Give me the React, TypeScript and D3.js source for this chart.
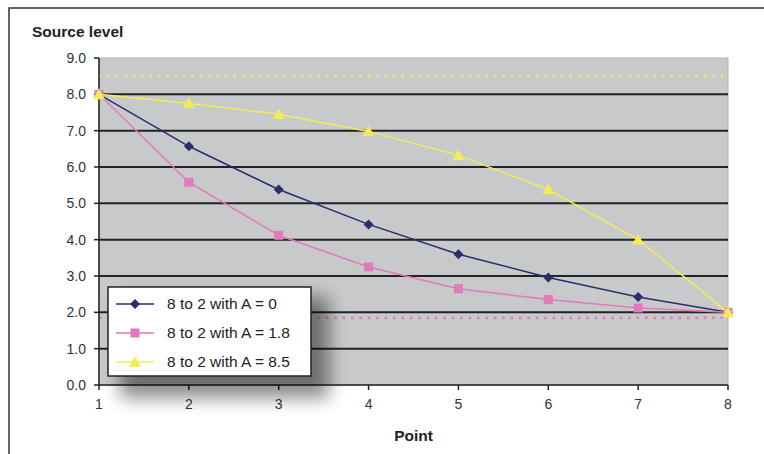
import React from "react";
import * as d3 from "d3";

const points = [1, 2, 3, 4, 5, 6, 7, 8];
const seriesNames = ["8 to 2 with A = 0", "8 to 2 with A = 1.8", "8 to 2 with A = 8.5"];
const seriesA0 = [8, 6.57, 5.38, 4.42, 3.6, 2.96, 2.42, 2.0];
const seriesA18 = [8, 5.58, 4.12, 3.25, 2.65, 2.35, 2.12, 2.0];
const seriesA85 = [8, 7.75, 7.45, 6.98, 6.32, 5.38, 4.0, 2.0];
const yTicks = [0, 1, 2, 3, 4, 5, 6, 7, 8, 9];
const refLines = [8.5, 1.85];
const colors = ["#2b2d6b", "#e07ab8", "#f2ec5a"];
const refColors = ["#f0e85a", "#e07ab8"];

const W = 764, H = 454;
const M = { left: 99, right: 728, top: 58, bottom: 385 };

export default function App() {
  const x = d3.scaleLinear().domain([1, 8]).range([M.left, M.right]);
  const y = d3.scaleLinear().domain([0, 9]).range([M.bottom, M.top]);
  const line = d3.line<number>().x((_, i) => x(points[i])).y((d) => y(d));
  const data = [seriesA0, seriesA18, seriesA85];
  const font = "'Liberation Sans', Arial, sans-serif";

  const marker = (k: number, cx: number, cy: number, key: string) => {
    if (k === 0) {
      const s = 5;
      return <path key={key} d={`M${cx},${cy - s}L${cx + s},${cy}L${cx},${cy + s}L${cx - s},${cy}Z`} fill={colors[0]} />;
    }
    if (k === 1) {
      return <rect key={key} x={cx - 4.5} y={cy - 4.5} width={9} height={9} fill={colors[1]} />;
    }
    const s = 6;
    return <path key={key} d={`M${cx},${cy - s}L${cx + s},${cy + s * 0.8}L${cx - s},${cy + s * 0.8}Z`} fill={colors[2]} />;
  };

  const legX = 108, legY = 287, legW = 203, legH = 89;

  return (
    <svg width={W} height={H} style={{ position: "absolute", left: 0, top: 0 }} fontFamily={font}>
      <defs>
        <filter id="shadow" x="-30%" y="-30%" width="180%" height="200%">
          <feGaussianBlur stdDeviation="9" />
        </filter>
      </defs>
      <rect x={0} y={0} width={W} height={H} fill="#fff" />
      <rect x={9} y={8} width={W + 20} height={H + 20} fill="#fff" stroke="#333" strokeWidth={1.5} />
      <rect x={M.left} y={M.top} width={M.right - M.left} height={M.bottom - M.top} fill="#c8c9cb" stroke="#b0b1b3" strokeWidth={1} />
      {yTicks.filter((t) => t > 0 && t < 9).map((t) => (
        <line key={t} x1={M.left} x2={M.right} y1={y(t)} y2={y(t)} stroke="#222" strokeWidth={2} />
      ))}
      {refLines.map((v, i) => (
        <line key={i} x1={M.left} x2={M.right} y1={y(v)} y2={y(v)} stroke={refColors[i]} strokeWidth={2.5} strokeDasharray="2.5,5.9" />
      ))}
      <line x1={M.left} x2={M.left} y1={M.top} y2={M.bottom} stroke="#222" strokeWidth={1.5} />
      <line x1={M.left} x2={M.right} y1={M.bottom} y2={M.bottom} stroke="#222" strokeWidth={1.5} />
      {yTicks.map((t) => (
        <g key={t}>
          <line x1={M.left - 5} x2={M.left} y1={y(t)} y2={y(t)} stroke="#222" strokeWidth={1.5} />
          <text x={M.left - 13} y={y(t)} dy="0.35em" textAnchor="end" fontSize={14} fill="#333">{t.toFixed(1)}</text>
        </g>
      ))}
      {points.map((p) => (
        <g key={p}>
          <line x1={x(p)} x2={x(p)} y1={M.bottom} y2={M.bottom + 5} stroke="#222" strokeWidth={1.5} />
          <text x={x(p)} y={M.bottom + 24} textAnchor="middle" fontSize={14} fill="#333">{p}</text>
        </g>
      ))}
      <text x={32} y={37} fontSize={15.5} fontWeight="bold" fill="#222">Source level</text>
      <text x={x(4.5)} y={441} textAnchor="middle" fontSize={15.5} fontWeight="bold" fill="#222">Point</text>
      {[0, 1, 2].map((k) => (
        <g key={k}>
          <path d={line(data[k]) || ""} fill="none" stroke={colors[k]} strokeWidth={1.5} />
          {data[k].map((v, i) => marker(k, x(points[i]), y(v), `${k}-${i}`))}
        </g>
      ))}
      <rect x={legX + 12} y={legY + 10} width={legW + 6} height={legH + 12} fill="#000" opacity={0.45} filter="url(#shadow)" />
      <rect x={legX} y={legY} width={legW} height={legH} fill="#fff" stroke="#222" strokeWidth={1.5} />
      {seriesNames.map((name, k) => {
        const ly = legY + 17 + k * 29;
        return (
          <g key={k}>
            <line x1={legX + 8} x2={legX + 46} y1={ly} y2={ly} stroke={colors[k]} strokeWidth={1.5} />
            {marker(k, legX + 27, ly, `leg-${k}`)}
            <text x={legX + 59} y={ly} dy="0.35em" fontSize={15.5} fill="#222">{name}</text>
          </g>
        );
      })}
    </svg>
  );
}
